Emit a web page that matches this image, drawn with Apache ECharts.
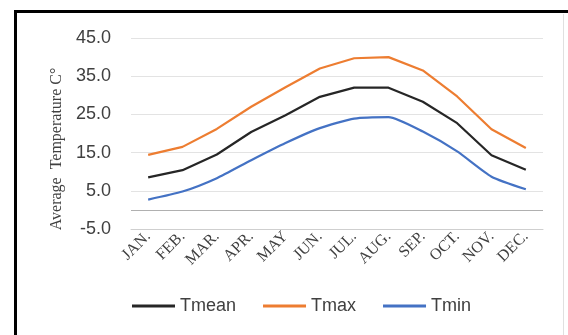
<!DOCTYPE html>
<html>
<head>
<meta charset="utf-8">
<script src="https://cdn.jsdelivr.net/npm/echarts@6/dist/echarts.min.js"></script>
<style>
html,body{margin:0;padding:0;background:#fff;}
#main{width:568px;height:335px;}
</style>
</head>
<body>
<div id="main"></div>
<script>
// 月份 + 温度数据
var months = ['JAN.', 'FEB.', 'MAR.', 'APR.', 'MAY', 'JUN.', 'JUL.', 'AUG.', 'SEP.', 'OCT.', 'NOV.', 'DEC.'];
var tmean = [8.5, 10.4, 14.5, 20.4, 24.8, 29.6, 32.0, 32.0, 28.3, 22.7, 14.3, 10.5];
var tmax = [14.4, 16.5, 21.2, 27.0, 32.1, 37.0, 39.7, 40.0, 36.5, 29.7, 21.1, 16.2];
var tmin = [2.7, 4.8, 8.3, 13.0, 17.5, 21.4, 23.9, 24.3, 20.5, 15.3, 8.7, 5.4];

var chart = echarts.init(document.getElementById('main'));
var option = {
    backgroundColor: '#fff',
    animation: false,
    color: ['#262626', '#ED7D31', '#4472C4'],
    grid: {
        left: 131,
        right: 25,
        top: 38,
        bottom: 106
    },
    legend: {
        left: 127,
        top: 292,
        itemWidth: 43,
        itemHeight: 3,
        itemGap: 27,
        icon: 'rect',
        textStyle: {
            fontFamily: 'Liberation Sans',
            fontSize: 18,
            color: '#404040'
        },
        data: ['Tmean', 'Tmax', 'Tmin']
    },
    xAxis: {
        type: 'category',
        data: months,
        boundaryGap: true,
        axisLine: { show: true, onZero: false, lineStyle: { color: '#cfcfcf', width: 1 } },
        axisTick: { show: false },
        axisLabel: {
            rotate: 45,
            margin: 5,
            interval: 0,
            fontFamily: 'Liberation Serif',
            fontSize: 16,
            color: '#404040'
        }
    },
    yAxis: {
        type: 'value',
        min: -5,
        max: 45,
        interval: 10,
        axisLine: { show: false },
        axisTick: { show: false },
        axisLabel: {
            margin: 20,
            fontFamily: 'Liberation Sans',
            fontSize: 18,
            color: '#404040',
            formatter: function (v) { return v.toFixed(1); }
        },
        splitLine: {
            showMinLine: true,
            showMaxLine: true,
            lineStyle: { color: '#e3e3e3', width: 1 }
        }
    },
    graphic: [
        {
            type: 'text',
            x: 57,
            y: 149,
            rotation: Math.PI / 2,
            style: {
                text: 'Average  Temperature C°',
                fontFamily: 'Liberation Serif',
                fontSize: 16,
                fill: '#404040',
                align: 'center',
                verticalAlign: 'middle'
            }
        },
        // 外框
        { type: 'rect', shape: { x: 14, y: 10, width: 560, height: 3 }, style: { fill: '#000' } },
        { type: 'rect', shape: { x: 14, y: 10, width: 3, height: 330 }, style: { fill: '#000' } },
        { type: 'line', shape: { x1: 563.5, y1: 14, x2: 563.5, y2: 335 }, style: { stroke: '#e0e0e0', lineWidth: 1 } }
    ],
    series: [
        {
            name: 'Tmean',
            type: 'line',
            data: tmean,
            symbol: 'none',
            lineStyle: { width: 2.2 },
            markLine: {
                silent: true,
                symbol: 'none',
                label: { show: false },
                lineStyle: { color: '#b0b0b0', type: 'solid', width: 1 },
                data: [{ yAxis: 0 }]
            }
        },
        {
            name: 'Tmax',
            type: 'line',
            data: tmax,
            symbol: 'none',
            lineStyle: { width: 2.2 }
        },
        {
            name: 'Tmin',
            type: 'line',
            data: tmin,
            smooth: 0.2,
            symbol: 'none',
            lineStyle: { width: 2.2 }
        }
    ]
};
chart.setOption(option);
</script>
</body>
</html>
